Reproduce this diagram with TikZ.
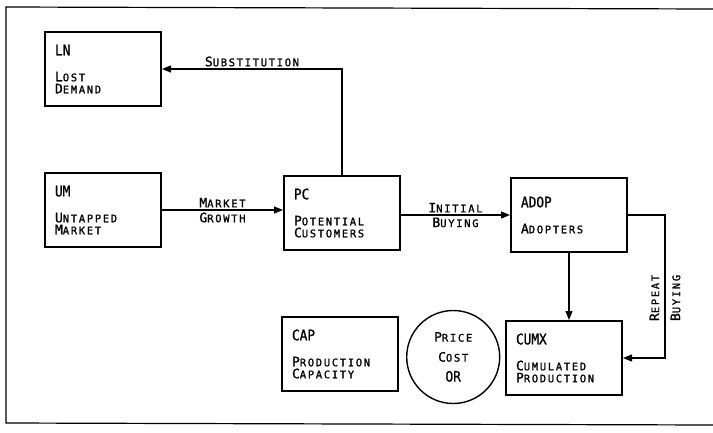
\documentclass[tikz,border=0pt]{standalone}
\usepackage{fontspec}
\usetikzlibrary{arrows.meta,positioning}
\newfontfamily\namefont[FakeStretch=0.88,FakeBold=1.2]{DejaVu Sans Mono}
\newfontfamily\capfont[FakeBold=1.2]{DejaVu Sans Mono}
\newfontfamily\lowfont[LetterSpace=16,FakeBold=1.2]{DejaVu Sans Mono}
\newcommand\scw[2]{{\capfont\fontsize{13pt}{12pt}\selectfont #1}{\lowfont\fontsize{10.5pt}{12pt}\selectfont #2}}
\newcommand\nm[1]{{\namefont\fontsize{14.5pt}{12pt}\selectfont #1}}

\begin{document}
\begin{tikzpicture}[
  x=1pt,y=-1pt,
  node distance=65pt and 121pt,
  stock/.style={rectangle,draw,line width=2pt,minimum height=74pt,
                text width=96pt,inner xsep=10pt,align=left,
                font=\fontsize{10.5pt}{12pt}\selectfont},
  aux/.style  ={circle,draw,line width=1.4pt,minimum size=93pt,inner sep=0pt,
                align=center,font=\fontsize{10.5pt}{20pt}\selectfont},
  lbl/.style  ={inner sep=2pt,font=\fontsize{10.5pt}{21pt}\selectfont},
  flow/.style ={-{Triangle[length=9pt,width=7pt]},line width=1.2pt},
]
\useasboundingbox (0,0) rectangle (713,432);
\draw[line width=1.2pt] (713,9) -- (6,7) -- (6,423) -- (713,425);

\node[stock] (um) at (103,210) {\nm{UM}\\[14pt]\scw{U}{NTAPPED}\\\scw{M}{ARKET}};
\node[stock, above=of um]                (ln)   {\nm{LN}\\[14pt]\scw{L}{OST}\\\scw{D}{EMAND}};
\node[stock, right=of um, yshift=-3pt]   (pc)   {\nm{PC}\\[14pt]\scw{P}{OTENTIAL}\\\scw{C}{USTOMERS}};
\node[stock, right=109pt of pc, yshift=-2pt] (adop) {\nm{ADOP}\\[14pt]\scw{A}{DOPTERS}};
\node[stock, below=of pc, xshift=-2pt]   (cap)  {\nm{CAP}\\[14pt]\scw{P}{RODUCTION}\\\scw{C}{APACITY}};
\node[stock, below=67pt of adop, xshift=-5pt] (cumx) {\nm{CUMX}\\[14pt]\scw{C}{UMULATED}\\\scw{P}{RODUCTION}};
\node[aux,   right=7pt of cap, yshift=-3pt] (price) {\scw{P}{RICE}\\\scw{C}{OST}\\\nm{OR}};

\draw[flow] (pc.north) |- node[lbl,above,pos=0.75]{\scw{S}{UBSTITUTION}} (ln.east);
\draw[flow] (um.east) -- node[lbl,above]{\scw{M}{ARKET}} node[lbl,below]{\scw{G}{ROWTH}} (um.east -| pc.west);
\draw[flow] (adop.west -| pc.east) -- node[lbl,above]{\scw{I}{NITIAL}} node[lbl,below]{\scw{B}{UYING}} (adop.west);
\draw[flow] (adop.south) -- (adop.south |- cumx.north);
\coordinate[right=37pt of adop.east] (rb);
\draw[flow] (adop.east) -- (rb) |- node[lbl,pos=0.29,rotate=90,align=center]{\scw{R}{EPEAT}\\\scw{B}{UYING}} (cumx.east);
\end{tikzpicture}
\end{document}
